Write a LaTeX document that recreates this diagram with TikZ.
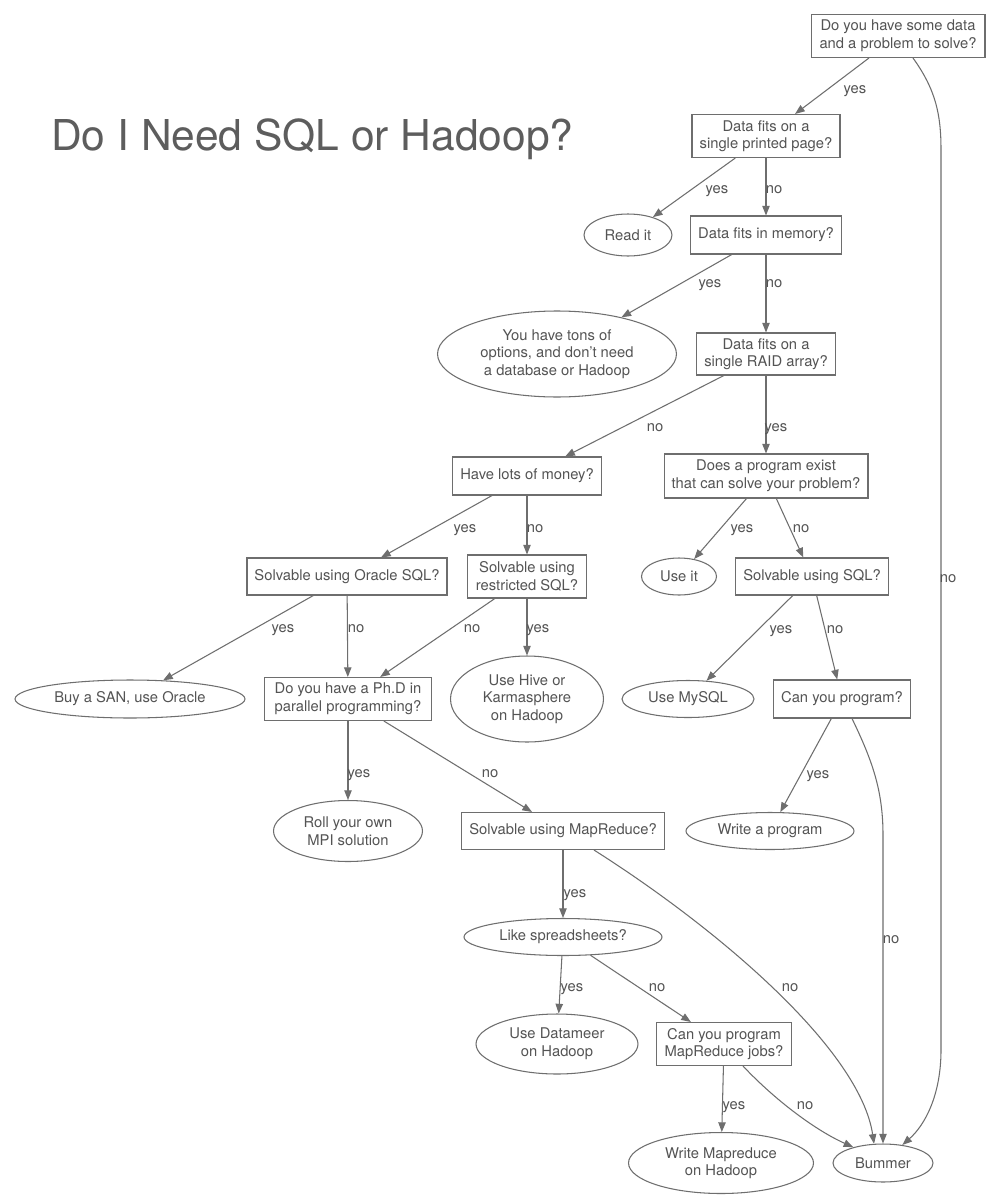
\documentclass[tikz,border=0pt]{standalone}
\usepackage{fontspec}
\setmainfont{TeX Gyre Heros}
\usetikzlibrary{shapes.geometric,arrows.meta,calc}
\definecolor{inkgray}{HTML}{545454}
\definecolor{linegray}{HTML}{6E6E6E}

\begin{document}
\begin{tikzpicture}[x=0.02cm, y=-0.02cm,
		font=\fontsize{8.4}{10}\selectfont, text=inkgray,
		sz/.style 2 args={minimum width=#1*0.2mm, minimum height=#2*0.2mm},
		question/.style={draw=linegray, line width=0.6pt, rectangle, inner sep=0pt, align=center},
		answer/.style={draw=linegray, line width=0.6pt, ellipse, inner sep=0pt, align=center},
		arr/.style={draw=linegray, line width=0.6pt, -{Triangle[length=5.5pt, width=4.2pt]}},
		lbl/.style={inner sep=0pt, text height=0.53em, text depth=0pt}]
		
		\fill[white] (0,0) rectangle (1000,1200);
		\useasboundingbox (0,0) rectangle (1000,1200);
		
		\node[anchor=base west, font=\fontsize{24.2}{28}\selectfont, text=inkgray!95] (title) at (45,150) {Do I Need SQL or Hadoop?};
		
		% Questions (boxes) and answers (ellipses)
		\node[question, sz={174}{43}] (q1) at (898,36) {Do you have some data\\and a problem to solve?};
		\node[question, sz={148}{43}] (q2) at (766,136) {Data fits on a\\single printed page?};
		\node[answer, sz={88}{42}] (readit) at (628,235) {Read it};
		\node[question, sz={151}{38}] (q3) at (766,235) {Data fits in memory?};
		\node[answer, sz={239}{86}] (tons) at (557,354) {You have tons of\\options, and don't need\\a database or Hadoop};
		\node[question, sz={139}{42}] (q4) at (766,354) {Data fits on a\\single RAID array?};
		\node[question, sz={149}{38}] (money) at (527,476) {Have lots of money?};
		\node[question, sz={204}{44}] (exist) at (766,476) {Does a program exist\\that can solve your problem?};
		\node[question, sz={200}{37}] (oracle) at (347,576.5) {Solvable using Oracle SQL?};
		\node[question, sz={119}{43}] (restr) at (527,576.5) {Solvable using\\restricted SQL?};
		\node[answer, sz={75}{37}] (useit) at (679,576.5) {Use it};
		\node[question, sz={153}{37}] (sql) at (812,576.5) {Solvable using SQL?};
		\node[answer, sz={230}{38}] (san) at (130,699) {Buy a SAN, use Oracle};
		\node[question, sz={167}{43}] (phd) at (348,699) {Do you have a Ph.D in\\parallel programming?};
		\node[answer, sz={153}{86}] (hive) at (527,699) {Use Hive or\\Karmasphere\\on Hadoop};
		\node[answer, sz={132}{37}] (mysql) at (688,699) {Use MySQL};
		\node[question, sz={137}{38}] (canprog) at (842,699) {Can you program?};
		\node[answer, sz={149}{61}] (mpi) at (348,831) {Roll your own\\MPI solution};
		\node[question, sz={203}{37}] (mapred) at (563,831) {Solvable using MapReduce?};
		\node[answer, sz={168}{37}] (writeprog) at (770,831) {Write a program};
		\node[answer, sz={198}{37}] (sheets) at (563,937) {Like spreadsheets?};
		\node[answer, sz={162}{60}] (datameer) at (557,1044) {Use Datameer\\on Hadoop};
		\node[question, sz={135}{43}] (canmr) at (724,1044) {Can you program\\MapReduce jobs?};
		\node[answer, sz={185}{61}] (writemr) at (721,1163) {Write Mapreduce\\on Hadoop};
		\node[answer, sz={100}{38}] (bummer) at (883,1163) {Bummer};
		
		% Straight edges
		\foreach \a/\b in {q1/q2, q2/readit, q2/q3, q3/tons, q3/q4, q4/money, q4/exist,
			money/oracle, money/restr, exist/useit, exist/sql, oracle/san, oracle/phd,
			restr/phd, restr/hive, sql/mysql, sql/canprog, phd/mpi, phd/mapred,
			canprog/writeprog, mapred/sheets, sheets/datameer, sheets/canmr, canmr/writemr}
			\draw[arr] (\a) -- (\b);
		
		% The "no" branches that end in Bummer
		\draw[arr] ($(q1.south)+(15,0)$) .. controls (936,90) and (941,115) .. (941,150)
			-- (941,1050) .. controls (941,1095) and (925,1125) .. (bummer.43);
		\draw[arr] ($(canprog.south)+(10,0)$) .. controls (872,760) and (883,790) .. (883,835) -- (bummer.north);
		\draw[arr] ($(mapred.south)+(31,0)$) .. controls (720,930) and (860,1050) .. (bummer.115);
		\draw[arr] ($(canmr.south)+(19,0)$) .. controls (775,1100) and (815,1130) .. (bummer.152);
		
		% Edge labels
		\foreach \x/\y/\t [count=\k] in {855/89/yes, 717/189/yes, 774/189/no, 710/283/yes, 774/283/no,
			655/427/no, 776/427/yes, 465/528/yes, 535/528/no, 742/528/yes, 801/528/no,
			948/578/no, 283/628/yes, 356/628/no, 472/628/no, 538/628/yes, 781/629/yes,
			835/629/no, 359/773/yes, 490/773/no, 818/774/yes, 575/893/yes, 891/939/no,
			572/987/yes, 657/987/no, 790/987/no, 734/1105/yes, 805/1105/no}
			\node[lbl] (lab\k) at (\x,\y) {\t};
\end{tikzpicture}
\end{document}
